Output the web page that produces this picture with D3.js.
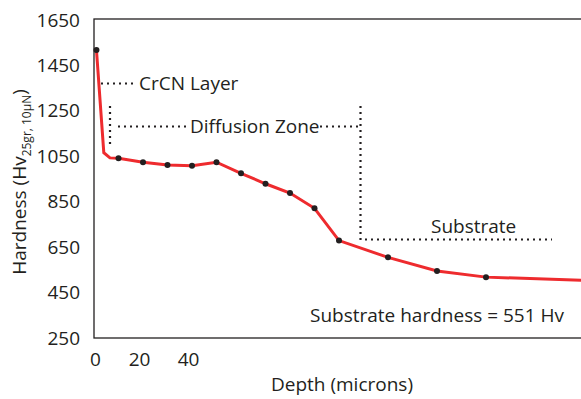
<!DOCTYPE html>
<html>
<head>
<meta charset="utf-8">
<script src="https://cdn.jsdelivr.net/npm/d3@7"></script>
<style>
  body { margin: 0; background: #fff; }
  svg text { font-family: "Open Sans", sans-serif; fill: #231f20; }
</style>
</head>
<body>
<svg id="chart"></svg>
<script>
// measured points (markers)
const pointDepth = [1, 10, 20, 30, 40, 50, 60, 70, 80, 90, 100, 120, 140, 160];
const pointHardness = [1518, 1041, 1024, 1012, 1008, 1024, 975, 929, 888, 821, 679, 605, 545, 518];

// red curve through the points
const curveDepth = [1, 4, 6.5, 10, 20, 30, 40, 50, 60, 70, 80, 90, 100, 120, 140, 160, 200];
const curveHardness = [1518, 1066, 1043, 1041, 1024, 1012, 1008, 1024, 975, 929, 888, 821, 679, 605, 545, 518, 504];

const yTicks = [250, 450, 650, 850, 1050, 1250, 1450, 1650];
const xTicks = [0, 20, 40];

const width = 581;
const height = 399;
const margin = { left: 94, top: 20, bottom: 61 };
const fs = "19px";

const svg = d3.select("#chart")
    .attr("width", width)
    .attr("height", height);

const x = d3.scaleLinear().domain([0, 200]).range([margin.left, 584]);
const y = d3.scaleLinear().domain([250, 1650]).range([height - margin.bottom, margin.top]);

// frame (right side runs off the picture)
svg.append("rect")
    .attr("x", margin.left)
    .attr("y", y(1650) - 1)
    .attr("width", 600)
    .attr("height", y(250) - y(1650) + 1)
    .attr("fill", "none")
    .attr("stroke", "#231f20")
    .attr("stroke-width", 1.3);

// y axis labels
const yAxis = svg.append("g")
    .attr("transform", `translate(${margin.left},0)`)
    .call(d3.axisLeft(y).tickValues(yTicks).tickFormat(d3.format("d")).tickSize(0).tickPadding(14));
yAxis.select(".domain").remove();
yAxis.selectAll("text").style("font-size", fs);

// x axis labels
const xAxis = svg.append("g")
    .attr("transform", `translate(0,${y(250)})`)
    .call(d3.axisBottom(x).tickValues(xTicks).tickFormat(d3.format("d")).tickSize(0).tickPadding(15));
xAxis.select(".domain").remove();
xAxis.selectAll("text").style("font-size", fs)
    .attr("dx", d => d === 0 ? 1 : -4);

// axis titles
svg.append("text")
    .attr("x", 342)
    .attr("y", 391)
    .attr("text-anchor", "middle")
    .style("font-size", fs)
    .text("Depth (microns)");

const yTitle = svg.append("text")
    .attr("transform", "translate(26,182) rotate(-90)")
    .attr("text-anchor", "middle")
    .style("font-size", fs);
yTitle.append("tspan").text("Hardness (Hv");
yTitle.append("tspan").attr("dy", 5).style("font-size", "12px").text("25gr, 10μN");
yTitle.append("tspan").attr("dy", -5).text(")");

// dotted annotation lines
const dots = svg.append("g")
    .attr("stroke", "#231f20")
    .attr("stroke-width", 2.2)
    .attr("stroke-dasharray", "2,4")
    .attr("fill", "none");

dots.append("line").attr("x1", 101).attr("y1", 83.5).attr("x2", 135).attr("y2", 83.5);
dots.append("line").attr("x1", 110).attr("y1", 106).attr("x2", 110).attr("y2", 148);
dots.append("line").attr("x1", 118).attr("y1", 126.5).attr("x2", 188).attr("y2", 126.5);
dots.append("line").attr("x1", 320).attr("y1", 126.5).attr("x2", 358).attr("y2", 126.5);
dots.append("line").attr("x1", 360.5).attr("y1", 106).attr("x2", 360.5).attr("y2", 244);
dots.append("line").attr("x1", 365).attr("y1", 239.5).attr("x2", 552).attr("y2", 239.5);

svg.append("text").attr("x", 139).attr("y", 90).style("font-size", fs).text("CrCN Layer");
svg.append("text").attr("x", 190).attr("y", 133).style("font-size", fs).text("Diffusion Zone");
svg.append("text").attr("x", 431).attr("y", 233).style("font-size", fs).text("Substrate");
svg.append("text").attr("x", 310).attr("y", 322).style("font-size", fs).text("Substrate hardness = 551 Hv");

// red curve
const line = d3.line()
    .x((d, i) => x(curveDepth[i]))
    .y(d => y(d));

svg.append("path")
    .datum(curveHardness)
    .attr("d", line)
    .attr("fill", "none")
    .attr("stroke", "#ee2b2e")
    .attr("stroke-width", 3);

// markers
svg.append("g")
    .selectAll("circle")
    .data(pointHardness)
    .enter()
    .append("circle")
    .attr("cx", (d, i) => x(pointDepth[i]))
    .attr("cy", d => y(d))
    .attr("r", 3)
    .attr("fill", "#231f20");
</script>
</body>
</html>
